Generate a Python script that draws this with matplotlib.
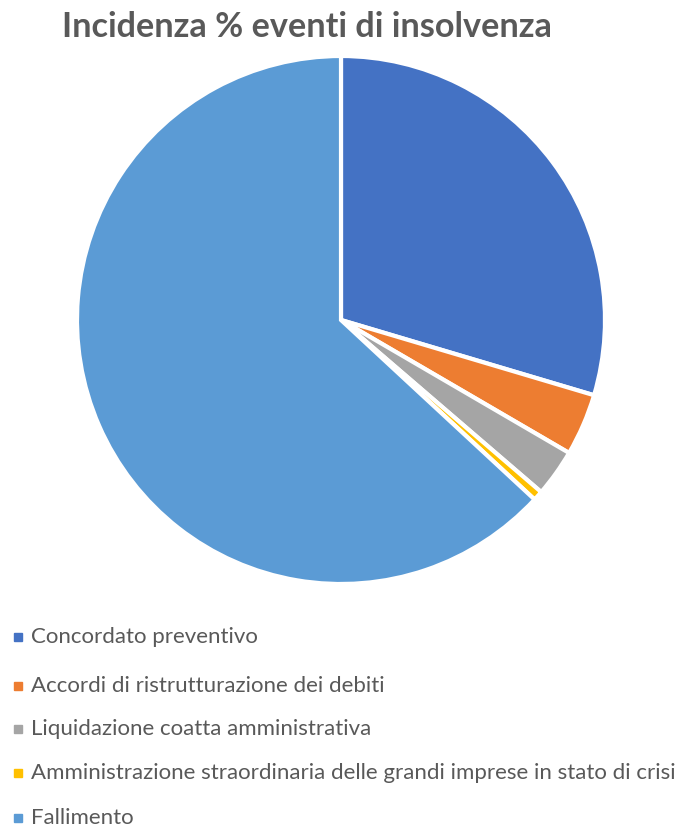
import matplotlib.pyplot as plt
import matplotlib.patches as patches

plt.rcParams['font.family'] = ['Lato', 'DejaVu Sans']

labels = ["Concordato preventivo",
          "Accordi di ristrutturazione dei debiti",
          "Liquidazione coatta amministrativa",
          "Amministrazione straordinaria delle grandi imprese in stato di crisi",
          "Fallimento"]
values = [29.6, 3.8, 2.9, 0.6, 63.1]
colors = ["#4472C4", "#ED7D31", "#A5A5A5", "#FFC000", "#5B9BD5"]

W, H = 681, 830
fig = plt.figure(figsize=(W / 100, H / 100), dpi=100)

# pie centre and radius in pixels
cx, cy, r = 341, 320, 264
ax = fig.add_axes([(cx - r) / W, 1 - (cy + r) / H, 2 * r / W, 2 * r / H])
ax.pie(values, colors=colors, startangle=90, counterclock=False,
       radius=1, wedgeprops=dict(edgecolor="white", linewidth=3))
ax.set_xlim(-1, 1)
ax.set_ylim(-1, 1)
ax.set_aspect("equal")
ax.axis("off")

fig.text(307 / W, 1 - 27 / H, "Incidenza % eventi di insolvenza",
         ha="center", va="center", fontsize=24.7, fontweight="bold", color="#595959")

rows = [637, 686, 729, 773, 818]
for lab, col, y in zip(labels, colors, rows):
    fig.patches.append(patches.Rectangle((14 / W, 1 - (y + 4) / H), 8 / W, 8 / H,
                                         transform=fig.transFigure, color=col))
    fig.text(31 / W, 1 - y / H, lab, ha="left", va="center",
             fontsize=16, color="#595959")

fig.savefig("out.png", dpi=100)
